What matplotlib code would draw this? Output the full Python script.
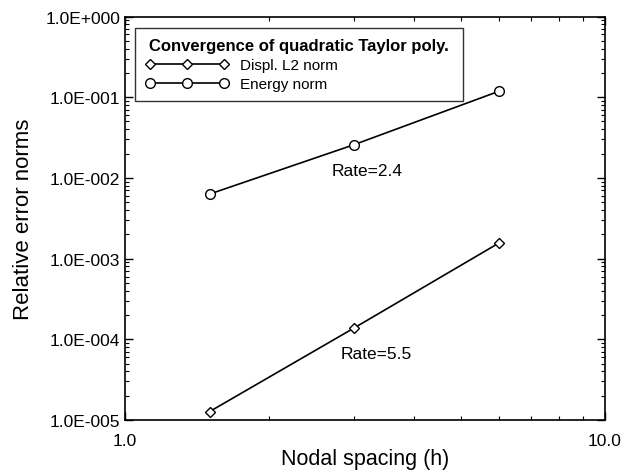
import math
import matplotlib
matplotlib.use("Agg")
import matplotlib.pyplot as plt
from matplotlib.ticker import FixedLocator, LogLocator, NullFormatter, FuncFormatter
from matplotlib.offsetbox import HPacker, DrawingArea

plt.rcParams['font.family'] = ['Liberation Sans', 'DejaVu Sans']

h = [1.5, 3.0, 6.0]
displ_l2 = [1.27e-5, 1.38e-4, 1.55e-3]
energy = [6.3e-3, 2.58e-2, 0.118]
legend_title = "Convergence of quadratic Taylor poly."
series_labels = ["Displ. L2 norm", "Energy norm"]
rate_texts = ["Rate=2.4", "Rate=5.5"]
xlabel = "Nodal spacing (h)"
ylabel = "Relative error norms"

fig = plt.figure(figsize=(6.24, 4.77), dpi=100)
ax = fig.add_axes([0.2003, 0.1174, 0.7693, 0.8459])

ax.plot(h, displ_l2, color='black', lw=1.2, marker='D', ms=5, mfc='white', mec='black', mew=1.0, label=series_labels[0])
ax.plot(h, energy, color='black', lw=1.2, marker='o', ms=7, mfc='white', mec='black', mew=1.0, label=series_labels[1])

ax.set_xscale('log')
ax.set_yscale('log')
ax.set_xlim(1.0, 10.0)
ax.set_ylim(1e-5, 1.0)

ax.xaxis.set_major_locator(FixedLocator([1.0, 10.0]))
ax.xaxis.set_major_formatter(FuncFormatter(lambda v, p: f"{v:.1f}"))
ax.xaxis.set_minor_locator(LogLocator(base=10, subs=range(2, 10)))
ax.xaxis.set_minor_formatter(NullFormatter())

ax.yaxis.set_major_locator(FixedLocator([1e-5, 1e-4, 1e-3, 1e-2, 1e-1, 1e0]))
def yfmt(v, p):
    e = int(round(math.log10(v)))
    sign = '+' if e >= 0 else '-'
    return f"1.0E{sign}{abs(e):03d}"
ax.yaxis.set_major_formatter(FuncFormatter(yfmt))
ax.yaxis.set_minor_locator(LogLocator(base=10, subs=range(2, 10)))
ax.yaxis.set_minor_formatter(NullFormatter())

ax.tick_params(which='both', direction='in', top=True, right=True, labelsize=12.5, colors='black')
ax.tick_params(which='major', length=6, width=1.0)
ax.tick_params(which='minor', length=3, width=0.8)
ax.tick_params(axis='x', pad=9)
for s in ax.spines.values():
    s.set_linewidth(1.2)

ax.set_xlabel(xlabel, fontsize=15.5, labelpad=0)
ax.set_ylabel(ylabel, fontsize=16, labelpad=8)

ax.text(2.69, 0.0125, rate_texts[0], fontsize=12.5, ha='left', va='center')
ax.text(2.81, 6.76e-5, rate_texts[1], fontsize=12.5, ha='left', va='center')

leg = ax.legend(title=legend_title, loc='upper left', bbox_to_anchor=(0.021, 0.972),
                numpoints=3, handlelength=5.5, fontsize=11, title_fontsize=12,
                frameon=True, fancybox=False, edgecolor='black', borderpad=0.65,
                labelspacing=0.35, handletextpad=0.7, borderaxespad=0.0,
                alignment='left')
leg.get_title().set_fontweight('bold')
leg.get_frame().set_linewidth(1.0)
try:
    vb = leg._legend_box
    vb._children[0] = HPacker(children=[DrawingArea(3, 1), leg._legend_title_box, DrawingArea(3, 1)],
                              pad=0, sep=0, align='center')
except Exception:
    pass

fig.savefig("out.png", dpi=100, facecolor='white')
